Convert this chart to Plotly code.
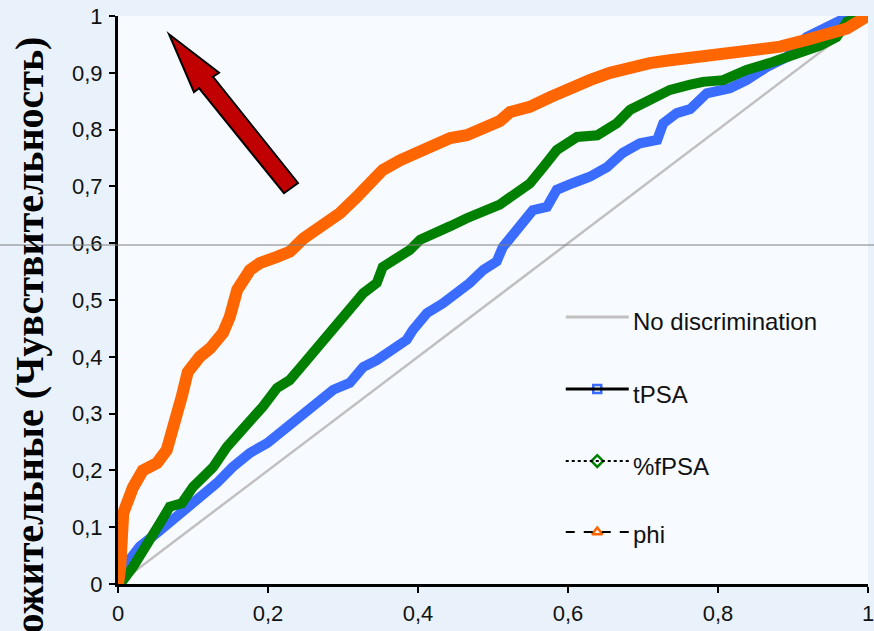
import plotly.graph_objects as go

# ---------------- data ----------------
phi_x = [0, 0.003, 0.007, 0.02, 0.033, 0.052, 0.065, 0.073, 0.085, 0.093, 0.109, 0.123, 0.14,
         0.149, 0.159, 0.176, 0.189, 0.212, 0.229, 0.247, 0.269, 0.296, 0.318, 0.331, 0.353,
         0.376, 0.398, 0.42, 0.443, 0.465, 0.492, 0.509, 0.523, 0.549, 0.576, 0.603, 0.629,
         0.656, 0.683, 0.709, 0.736, 0.763, 0.793, 0.838, 0.883, 0.918, 0.949, 0.972, 0.993, 1.0]
phi_y = [0, 0.03, 0.125, 0.17, 0.20, 0.213, 0.236, 0.283, 0.33, 0.373, 0.40, 0.415, 0.442,
         0.47, 0.518, 0.553, 0.565, 0.576, 0.585, 0.608, 0.629, 0.653, 0.681, 0.699, 0.729,
         0.746, 0.758, 0.77, 0.785, 0.79, 0.803, 0.815, 0.831, 0.84, 0.857, 0.875, 0.887,
         0.90, 0.91, 0.917, 0.922, 0.927, 0.929, 0.937, 0.946, 0.958, 0.967, 0.978, 0.995, 1.0]

fpsa_x = [0, 0.007, 0.02, 0.038, 0.056, 0.069, 0.085, 0.10, 0.114, 0.127, 0.145, 0.163, 0.18,
          0.193, 0.212, 0.229, 0.247, 0.265, 0.287, 0.309, 0.327, 0.345, 0.353, 0.372, 0.389,
          0.403, 0.42, 0.443, 0.465, 0.487, 0.509, 0.523, 0.549, 0.567, 0.585, 0.612, 0.639,
          0.665, 0.683, 0.709, 0.736, 0.763, 0.78, 0.807, 0.838, 0.873, 0.905, 0.936, 0.958,
          0.972, 1.0]
fpsa_y = [0, 0.007, 0.03, 0.066, 0.107, 0.136, 0.142, 0.171, 0.192, 0.206, 0.241, 0.266, 0.289,
          0.312, 0.345, 0.359, 0.387, 0.415, 0.452, 0.482, 0.512, 0.53, 0.558, 0.574, 0.588,
          0.606, 0.618, 0.63, 0.644, 0.656, 0.668, 0.681, 0.705, 0.734, 0.764, 0.787, 0.79,
          0.811, 0.835, 0.852, 0.87, 0.879, 0.884, 0.887, 0.905, 0.919, 0.934, 0.948, 0.963,
          0.99, 1.0]

tpsa_x = [0, 0.002, 0.012, 0.029, 0.052, 0.073, 0.092, 0.109, 0.132, 0.153, 0.176, 0.199, 0.22,
          0.243, 0.265, 0.287, 0.309, 0.327, 0.345, 0.367, 0.385, 0.393, 0.412, 0.433, 0.452,
          0.469, 0.487, 0.505, 0.513, 0.532, 0.553, 0.572, 0.585, 0.607, 0.629, 0.652, 0.673,
          0.696, 0.719, 0.727, 0.745, 0.763, 0.772, 0.785, 0.816, 0.838, 0.865, 0.892, 0.918,
          0.945, 0.972, 1.0]
tpsa_y = [0, 0.02, 0.037, 0.066, 0.09, 0.113, 0.13, 0.148, 0.178, 0.206, 0.231, 0.248, 0.271,
          0.297, 0.321, 0.342, 0.354, 0.382, 0.394, 0.412, 0.43, 0.447, 0.477, 0.494, 0.512,
          0.53, 0.553, 0.568, 0.593, 0.623, 0.658, 0.664, 0.694, 0.706, 0.717, 0.734, 0.759,
          0.776, 0.782, 0.811, 0.829, 0.836, 0.847, 0.864, 0.873, 0.887, 0.91, 0.928, 0.963,
          0.981, 0.998, 1.0]

diag_x = [0, 1]
diag_y = [0, 1]

series_names = ["No discrimination", "tPSA", "%fPSA", "phi"]
x_ticks = [0, 0.2, 0.4, 0.6, 0.8, 1]
y_ticks = [0, 0.1, 0.2, 0.3, 0.4, 0.5, 0.6, 0.7, 0.8, 0.9, 1]
y_title = "Истинно положительные (Чувствительность)"

# ---------------- styling ----------------
ORANGE = "#ff6600"
GREEN = "#008000"
BLUE = "#3a6cff"
GREY = "#c0c0c0"
SANS = "Liberation Sans, Arial, sans-serif"

fig = go.Figure()

fig.add_trace(go.Scatter(x=diag_x, y=diag_y, mode="lines", line=dict(color=GREY, width=2.5),
                         name=series_names[0], showlegend=False, hoverinfo="skip"))
fig.add_trace(go.Scatter(x=tpsa_x, y=tpsa_y, mode="lines", name=series_names[1],
                         line=dict(color=BLUE, width=10), showlegend=False))
fig.add_trace(go.Scatter(x=fpsa_x, y=fpsa_y, mode="lines", name=series_names[2],
                         line=dict(color=GREEN, width=10), showlegend=False))
fig.add_trace(go.Scatter(x=phi_x, y=phi_y, mode="lines", name=series_names[3],
                         line=dict(color=ORANGE, width=12), showlegend=False))

# ---------------- hand-drawn legend (in paper coordinates) ----------------
leg_x0, leg_x1, leg_text_x = 0.597, 0.681, 0.684
leg_line_y = [0.4699, 0.3433, 0.2165, 0.0915]
leg_text_y = [0.4613, 0.3345, 0.2077, 0.0880]
leg_line = [dict(color=GREY, width=3, dash="solid"),
            dict(color="black", width=3, dash="solid"),
            dict(color="black", width=2, dash="dot"),
            dict(color="black", width=2, dash="dash")]
leg_marker = [None,
              dict(symbol="square-open", size=8, color=BLUE, line=dict(color=BLUE, width=2.5)),
              dict(symbol="diamond-open", size=9, color=GREEN, line=dict(color=GREEN, width=2.5)),
              dict(symbol="triangle-up-open", size=9, color=ORANGE, line=dict(color=ORANGE, width=2.5))]
for i, name in enumerate(series_names):
    fig.add_shape(type="line", xref="paper", yref="paper", x0=leg_x0, x1=leg_x1,
                  y0=leg_line_y[i], y1=leg_line_y[i], line=leg_line[i], layer="above")
    if leg_marker[i] is not None:
        fig.add_trace(go.Scatter(x=[(leg_x0 + leg_x1) / 2], y=[leg_line_y[i]], mode="markers",
                                 marker=leg_marker[i], showlegend=False, hoverinfo="skip",
                                 cliponaxis=False))
    fig.add_annotation(text=name, xref="paper", yref="paper", x=leg_text_x, y=leg_text_y[i],
                       xanchor="left", yanchor="middle", showarrow=False,
                       font=dict(family=SANS, size=24, color="#111111"))

# red arrow (decoration)
arrow = [(0.068, 0.968), (0.1347, 0.900), (0.1267, 0.893), (0.240, 0.706),
         (0.2213, 0.688), (0.108, 0.873), (0.1013, 0.866)]
path = "M " + " L ".join(f"{a},{b}" for a, b in arrow) + " Z"
fig.add_shape(type="path", path=path, xref="x", yref="y", fillcolor="#c00000",
              line=dict(color="black", width=2), layer="above")

# thin grey horizontal line across the slide
fig.add_shape(type="line", xref="paper", yref="paper", x0=-0.2, x1=1.05,
              y0=0.5968, y1=0.5968, line=dict(color="#7f7f7f", width=1), layer="above")

fig.add_annotation(text=y_title, xref="paper", yref="paper", x=-0.118, y=0.9665,
                   xanchor="center", yanchor="top", textangle=-90, showarrow=False,
                   font=dict(family="Liberation Serif, Times New Roman, serif", size=40,
                             color="black", weight="bold"))

axis_font = dict(family=SANS, size=22, color="#111111")
fig.update_xaxes(range=[0, 1], tickvals=x_ticks, showgrid=False, zeroline=False,
                 showline=True, linecolor="black", linewidth=3, ticks="outside",
                 ticklen=6, tickwidth=2, tickcolor="black", tickfont=axis_font,
                 ticklabelstandoff=2, ticklabeloverflow="allow", automargin=False)
fig.update_yaxes(range=[0, 1], tickvals=y_ticks, showgrid=False, zeroline=False,
                 showline=True, linecolor="black", linewidth=3, ticks="outside",
                 ticklen=6, tickwidth=2, tickcolor="black", tickfont=axis_font,
                 ticklabelstandoff=2, automargin=False)

fig.update_layout(
    width=874, height=631,
    margin=dict(l=118, r=6, t=16, b=47, autoexpand=False),
    paper_bgcolor="#e9f2fb",
    plot_bgcolor="#f7faff",
    separators=", ",
    showlegend=False,
)

fig.write_html("out.html", config={"displayModeBar": False},
               post_script="document.body.style.margin='0';")
